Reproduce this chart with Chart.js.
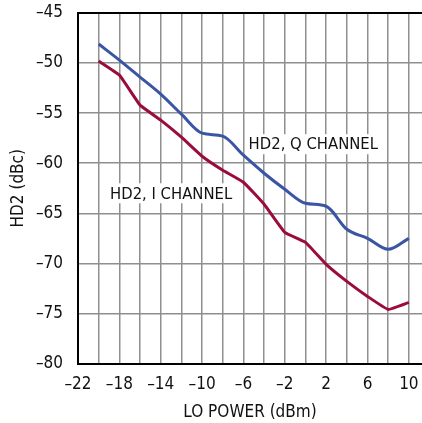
<!DOCTYPE html>
<html>
<head>
<meta charset="utf-8">
<script src="https://cdn.jsdelivr.net/npm/chart.js@4"></script>
<style>
html,body{margin:0;padding:0;background:#fff;}
#wrap{width:422px;height:423px;}
</style>
</head>
<body>
<div id="wrap"><canvas id="c" width="422" height="423"></canvas></div>
<script>
const loPower = [-20,-18,-16,-14,-12,-10,-8,-6,-4,-2,0,2,4,6,8,10];
const hd2Q = [-48.1,-49.7,-51.4,-53.1,-55.1,-57.0,-57.3,-59.2,-61.0,-62.6,-64.0,-64.3,-66.6,-67.5,-68.6,-67.5];
const hd2I = [-49.8,-51.2,-54.2,-55.7,-57.4,-59.3,-60.7,-61.9,-64.1,-66.9,-67.9,-70.1,-71.8,-73.3,-74.6,-73.9];
const xTickValues = [-22,-20,-18,-16,-14,-12,-10,-8,-6,-4,-2,0,2,4,6,8,10];
const xLabelValues = [-22,-18,-14,-10,-6,-2,2,6,10];
const yTickValues = [-80,-75,-70,-65,-60,-55,-50,-45];
const seriesLabels = ['HD2, Q CHANNEL','HD2, I CHANNEL'];
const labelAnchors = [{x:-5.5,y:-58.1},{x:-18.9,y:-63.0}];

const FONT = '"DejaVu Sans Condensed", "Liberation Sans", Arial, sans-serif';
const fmt = v => (v < 0 ? '\u2013' + Math.abs(v) : String(v));

const labelPlugin = {
  id: 'curveLabels',
  beforeDatasetsDraw(chart) {
    const {ctx, scales:{x, y}} = chart;
    ctx.save();
    ctx.font = '16.5px ' + FONT;
    ctx.textBaseline = 'middle';
    ctx.textAlign = 'left';
    seriesLabels.forEach((t, i) => {
      const px = x.getPixelForValue(labelAnchors[i].x);
      const py = y.getPixelForValue(labelAnchors[i].y);
      const w = ctx.measureText(t).width;
      ctx.fillStyle = '#fff';
      ctx.fillRect(px - 3, py - 10, w + 6, 20);
      ctx.fillStyle = '#111';
      ctx.fillText(t, px, py + 1);
    });
    ctx.restore();
  }
};

new Chart(document.getElementById('c'), {
  type: 'line',
  data: {
    datasets: [
      {label: seriesLabels[0], data: loPower.map((v,i)=>({x:v,y:hd2Q[i]})), borderColor:'#3a55a4', borderWidth:3, pointRadius:0, tension:0.4, cubicInterpolationMode:'monotone'},
      {label: seriesLabels[1], data: loPower.map((v,i)=>({x:v,y:hd2I[i]})), borderColor:'#9a0c3c', borderWidth:3, pointRadius:0, tension:0.1}
    ]
  },
  options: {
    responsive: false,
    animation: false,
    devicePixelRatio: 1,
    layout: {padding: {top: 13, right: 0, left: 0, bottom: 0}},
    plugins: {legend: {display:false}, tooltip: {enabled:false}},
    scales: {
      x: {
        type: 'linear', min: -22, max: 11.27,
        afterBuildTicks: s => { s.ticks = xTickValues.map(v => ({value: v})); },
        afterFit: s => { s.height = 59.5; },
        grid: {color: c => c.tick && c.tick.value === -22 ? 'rgba(0,0,0,0)' : '#8f8f8f', lineWidth: 1.5, drawTicks: true, tickLength: 11, tickColor: 'rgba(0,0,0,0)'},
        border: {display: true, color: '#000', width: 2},
        ticks: {
          autoSkip: false, maxRotation: 0, padding: 0,
          color: '#111', font: {family: FONT, size: 17},
          callback: v => xLabelValues.includes(v) ? fmt(v) : ''
        },
        title: {display: true, text: 'LO POWER (dBm)', color: '#111', font: {family: FONT, size: 17}, padding: {top: 4, bottom: 0}}
      },
      y: {
        type: 'linear', min: -80, max: -45,
        afterBuildTicks: s => { s.ticks = yTickValues.map(v => ({value: v})); },
        afterFit: s => { s.width = 78; },
        grid: {color: c => c.tick && c.tick.value === -45 ? '#000' : (c.tick && c.tick.value === -80 ? 'rgba(0,0,0,0)' : '#8f8f8f'), lineWidth: c => c.tick && c.tick.value === -45 ? 2 : 1.5, drawTicks: true, tickLength: 15, tickColor: 'rgba(0,0,0,0)'},
        border: {display: true, color: '#000', width: 2},
        ticks: {padding: 0, color: '#111', font: {family: FONT, size: 17}, callback: v => fmt(v)},
        title: {display: true, text: 'HD2 (dBc)', color: '#111', font: {family: FONT, size: 17}, padding: {top: 8, bottom: 0}}
      }
    }
  },
  plugins: [labelPlugin]
});
</script>
</body>
</html>
